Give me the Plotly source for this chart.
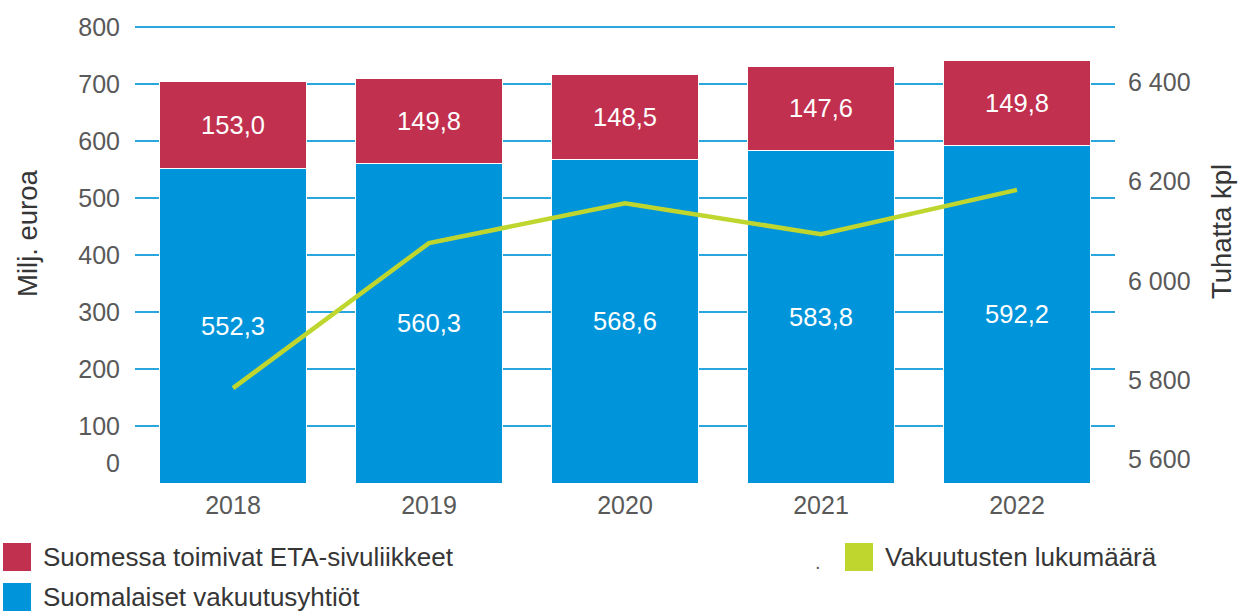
import plotly.graph_objects as go

years = ["2018", "2019", "2020", "2021", "2022"]
suomalaiset = [552.3, 560.3, 568.6, 583.8, 592.2]
eta_sivuliikkeet = [153.0, 149.8, 148.5, 147.6, 149.8]
vakuutukset = [5784, 6076, 6156, 6094, 6183]

left_ticks = [100, 200, 300, 400, 500, 600, 700, 800]
right_ticks = [5800, 6000, 6200, 6400]
right_ticktext = ["5 800", "6 000", "6 200", "6 400"]

BLUE = "#0095da"
RED = "#c1304e"
GREEN = "#bfd62f"
GRID = "#2aa6df"
TICK = "#595959"
TXT = "#363636"
FONT = "Liberation Sans, Arial, sans-serif"

W, H = 1241, 612
L, R, T, B = 135, 126, 25, 129
PW, PH = W - L - R, H - T - B


def px(xp):
    return (xp - L) / PW


def py(yp):
    return (H - B - yp) / PH


def fmt(v):
    return f"{v:.1f}".replace(".", ",")


fig = go.Figure()
fig.add_trace(go.Bar(
    x=years, y=suomalaiset, name="Suomalaiset vakuutusyhtiöt",
    marker=dict(color=BLUE, line=dict(color="white", width=1)),
    text=[fmt(v) for v in suomalaiset], textposition="inside",
    insidetextanchor="middle",
    textfont=dict(color="white", size=25.5, family=FONT),
    hoverinfo="skip", showlegend=False,
))
fig.add_trace(go.Bar(
    x=years, y=eta_sivuliikkeet, name="Suomessa toimivat ETA-sivuliikkeet",
    marker=dict(color=RED, line=dict(color="white", width=1)),
    text=[fmt(v) for v in eta_sivuliikkeet], textposition="inside",
    insidetextanchor="middle",
    textfont=dict(color="white", size=25.5, family=FONT),
    hoverinfo="skip", showlegend=False,
))
fig.add_trace(go.Scatter(
    x=years, y=vakuutukset, name="Vakuutusten lukumäärä", yaxis="y2",
    mode="lines", line=dict(color=GREEN, width=4.5),
    hoverinfo="skip", showlegend=False,
))

common = dict(zeroline=False, showline=False, ticks="", automargin=False,
              tickfont=dict(size=25, color=TICK))
YL = [0, 804]
YR = [5593, 6515]

fig.update_layout(
    width=W, height=H,
    margin=dict(l=L, r=R, t=T, b=B, pad=0),
    paper_bgcolor="white", plot_bgcolor="white",
    barmode="stack", bargap=0.245,
    font=dict(family=FONT, color=TICK, size=25),
    showlegend=False,
    xaxis=dict(type="category", range=[-0.5, 4.5], showgrid=False,
               ticklabelstandoff=5, **common),
    yaxis=dict(range=YL, tickvals=left_ticks, showgrid=True,
               gridcolor=GRID, gridwidth=2, ticklabelstandoff=14, **common),
    yaxis2=dict(range=YR, overlaying="y", side="right",
                tickvals=right_ticks, ticktext=right_ticktext, showgrid=False,
                ticklabelstandoff=12, **common),
    yaxis3=dict(range=YL, overlaying="y", side="left", tickvals=[0],
                ticktext=["0"], showgrid=False, ticklabelstandoff=14,
                ticklabelshift=-20, **common),
    yaxis4=dict(range=YR, overlaying="y", side="right",
                tickvals=[5600], ticktext=["5 600"], showgrid=False,
                ticklabelstandoff=12, ticklabelshift=-20, **common),
)

# dummy traces so the extra axes render
fig.add_trace(go.Scatter(x=[years[0]], y=[None], yaxis="y3", showlegend=False, hoverinfo="skip"))
fig.add_trace(go.Scatter(x=[years[0]], y=[None], yaxis="y4", showlegend=False, hoverinfo="skip"))

# axis titles
fig.add_annotation(text="Milj. euroa", xref="paper", yref="paper", x=px(28), y=py(233),
                   xanchor="center", yanchor="middle",
                   textangle=-90, showarrow=False, font=dict(size=27.5, color=TXT))
fig.add_annotation(text="Tuhatta kpl", xref="paper", yref="paper", x=px(1221), y=py(232),
                   xanchor="center", yanchor="middle",
                   textangle=-90, showarrow=False, font=dict(size=27.5, color=TXT))

# legend (manual, large swatches)
legend_items = [
    ("Suomessa toimivat ETA-sivuliikkeet", RED, 3, 543),
    ("Suomalaiset vakuutusyhtiöt", BLUE, 3, 583),
    ("Vakuutusten lukumäärä", GREEN, 845, 543),
]
for label, color, lx, ly in legend_items:
    fig.add_shape(type="rect", xref="paper", yref="paper",
                  x0=px(lx), x1=px(lx + 28), y0=py(ly), y1=py(ly + 28),
                  fillcolor=color, line=dict(width=0))
    fig.add_annotation(text=label, xref="paper", yref="paper",
                       x=px(lx + 38), y=py(ly + 14), xanchor="left", yanchor="middle",
                       showarrow=False, font=dict(size=26, color=TXT))
fig.add_annotation(text=".", xref="paper", yref="paper", x=px(818), y=py(562),
                   xanchor="center", yanchor="middle", showarrow=False,
                   font=dict(size=20, color=TICK))

fig.write_html(
    "out.html",
    config={"displayModeBar": False},
    post_script="document.body.style.margin='0';document.body.style.overflow='hidden';",
)
